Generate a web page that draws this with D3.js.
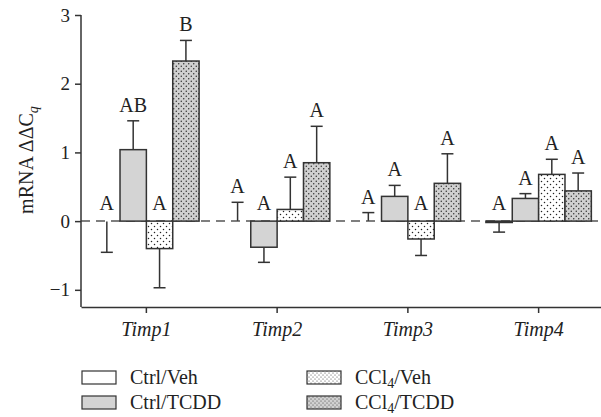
<!DOCTYPE html>
<html><head><meta charset="utf-8">
<script src="https://cdn.jsdelivr.net/npm/d3@7"></script>
<style>
html,body{margin:0;padding:0;background:#fff;}
svg text{font-family:"Liberation Serif","DejaVu Serif",serif;fill:#222;}
</style></head>
<body>
<svg id="chart" width="601" height="417"></svg>
<script>
const categories = ["Timp1", "Timp2", "Timp3", "Timp4"];
const seriesNames = ["Ctrl/Veh", "Ctrl/TCDD", "CCl4/Veh", "CCl4/TCDD"];
const ctrlVeh = [-0.004, 0.004, 0.004, -0.02];
const ctrlVehErr = [0.45, 0.27, 0.12, 0.14];
const ctrlTcdd = [1.04, -0.38, 0.36, 0.33];
const ctrlTcddErr = [0.42, 0.22, 0.16, 0.07];
const ccl4Veh = [-0.40, 0.17, -0.26, 0.68];
const ccl4VehErr = [0.57, 0.47, 0.24, 0.22];
const ccl4Tcdd = [2.33, 0.85, 0.55, 0.44];
const ccl4TcddErr = [0.30, 0.53, 0.43, 0.26];
const lettersCtrlVeh = ["A", "A", "A", "A"];
const lettersCtrlTcdd = ["AB", "A", "A", "A"];
const lettersCcl4Veh = ["A", "A", "A", "A"];
const lettersCcl4Tcdd = ["B", "A", "A", "A"];
const yTicks = [-1, 0, 1, 2, 3];

const values = [ctrlVeh, ctrlTcdd, ccl4Veh, ccl4Tcdd];
const errs = [ctrlVehErr, ctrlTcddErr, ccl4VehErr, ccl4TcddErr];
const letters = [lettersCtrlVeh, lettersCtrlTcdd, lettersCcl4Veh, lettersCcl4Tcdd];
const fills = ["#ffffff", "#d4d4d4", "url(#dotsWhite)", "url(#dotsGray)"];
const legendFills = ["#ffffff", "#d4d4d4", "url(#dotsWhiteS)", "url(#dotsGrayS)"];

const svg = d3.select("#chart");
const defs = svg.append("defs");
function dotPattern(id, size, bg, r) {
  const p = defs.append("pattern").attr("id", id).attr("patternUnits", "userSpaceOnUse")
    .attr("width", size).attr("height", size);
  p.append("rect").attr("width", size).attr("height", size).attr("fill", bg);
  p.append("circle").attr("cx", size * 0.25).attr("cy", size * 0.25).attr("r", r).attr("fill", "#222");
  p.append("circle").attr("cx", size * 0.75).attr("cy", size * 0.75).attr("r", r).attr("fill", "#222");
}
dotPattern("dotsWhite", 6, "#ffffff", 0.75);
dotPattern("dotsGray", 5, "#d0d0d0", 0.7);
dotPattern("dotsWhiteS", 4, "#ffffff", 0.5);
dotPattern("dotsGrayS", 4, "#d0d0d0", 0.5);

const x0 = d3.scaleBand().domain(categories).range([81, 604]).paddingInner(0).paddingOuter(0);
const x1 = d3.scaleBand().domain(seriesNames).range([0, x0.bandwidth()]).paddingInner(0).paddingOuter(0.48);
const y = d3.scaleLinear().domain([-1.25, 3]).range([307, 15]);

const stroke = "#333";

// Zero dashed line
svg.append("line").attr("x1", 81).attr("x2", 598).attr("y1", y(0)).attr("y2", y(0))
  .attr("stroke", "#555").attr("stroke-width", 1.5).attr("stroke-dasharray", "9,6");

// bars
seriesNames.forEach((s, si) => {
  const g = svg.append("g");
  categories.forEach((c, ci) => {
    const v = values[si][ci], e = errs[si][ci];
    const bx = x0(c) + x1(s), bw = x1.bandwidth();
    const errEnd = v >= 0 ? v + e : v - e;
    // error bar
    g.append("line").attr("x1", bx + bw / 2).attr("x2", bx + bw / 2)
      .attr("y1", y(v)).attr("y2", y(errEnd)).attr("stroke", stroke).attr("stroke-width", 1.5);
    g.append("line").attr("x1", bx + bw / 2 - 6).attr("x2", bx + bw / 2 + 6)
      .attr("y1", y(errEnd)).attr("y2", y(errEnd)).attr("stroke", stroke).attr("stroke-width", 1.5);
    const h = Math.abs(y(v) - y(0));
    if (h >= 1) {
      g.append("rect").attr("x", bx).attr("width", bw)
        .attr("y", y(Math.max(0, v))).attr("height", h)
        .attr("fill", fills[si]).attr("stroke", stroke).attr("stroke-width", 1.5);
    }
    const top = Math.max(0, v, errEnd);
    g.append("text").attr("x", bx + bw / 2).attr("y", y(top) - (top < 0.02 ? 11 : 9))
      .attr("text-anchor", "middle").attr("font-size", 20).text(letters[si][ci]);
  });
});

// axes
const yAxis = svg.append("g").attr("transform", "translate(81,0)")
  .call(d3.axisLeft(y).tickValues(yTicks).tickSize(6).tickSizeOuter(0).tickPadding(5)
    .tickFormat(d => d < 0 ? "\u2212" + Math.abs(d) : d));
yAxis.select(".domain").attr("d", `M0,${y(3)}V${y(-1.25)}`);
yAxis.selectAll("line,path").attr("stroke", stroke).attr("stroke-width", 1.5);
yAxis.selectAll("text").attr("font-size", 19).attr("font-family", "Liberation Serif").attr("fill", "#222");

const xAxis = svg.append("g").attr("transform", `translate(0,${y(-1.25)})`)
  .call(d3.axisBottom(x0).tickSize(6).tickSizeOuter(0).tickPadding(9));
xAxis.selectAll("line,path").attr("stroke", stroke).attr("stroke-width", 1.5);
xAxis.selectAll("text").attr("font-size", 20).attr("font-style", "italic")
  .attr("font-family", "Liberation Serif").attr("fill", "#222");

// y label
const yl = svg.append("text").attr("transform", "translate(33,160) rotate(-90)")
  .attr("text-anchor", "middle").attr("font-size", 20);
yl.append("tspan").text("mRNA \u0394\u0394C");
yl.append("tspan").attr("font-style", "italic").attr("font-size", 14).attr("dy", 5).text("q");

// legend
const legendPos = [[82, 371], [82, 396], [307, 371], [307, 396]];
seriesNames.forEach((s, si) => {
  const [lx, ly] = legendPos[si];
  svg.append("rect").attr("x", lx).attr("y", ly).attr("width", 34).attr("height", 13)
    .attr("fill", legendFills[si]).attr("stroke", stroke).attr("stroke-width", 1.2);
  const t = svg.append("text").attr("x", lx + 48).attr("y", ly + 13).attr("font-size", 20);
  if (s.startsWith("CCl4")) {
    t.append("tspan").text("CCl");
    t.append("tspan").attr("font-size", 14).attr("dy", 4).text("4");
    t.append("tspan").attr("dy", -4).text(s.slice(4));
  } else {
    t.text(s);
  }
});
</script>
</body></html>
